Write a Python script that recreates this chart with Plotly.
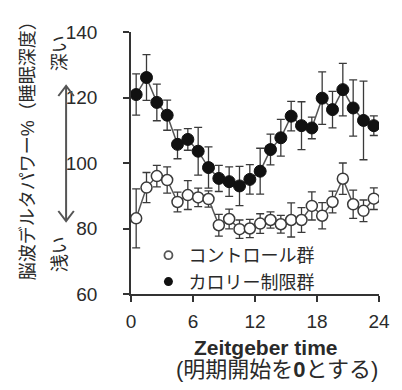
import plotly.graph_objects as go

# ---- data ----
hours = [h + 0.5 for h in range(24)]
control = [83.1, 92.5, 96.0, 94.8, 88.1, 90.2, 89.5, 89.0, 81.0, 82.9, 79.8, 80.0,
           81.5, 82.6, 81.3, 82.6, 82.6, 86.9, 83.9, 88.1, 95.2, 87.4, 85.4, 89.1]
control_err = [9.0, 4.6, 3.3, 4.0, 3.0, 4.4, 2.8, 2.5, 3.3, 3.0, 2.8, 2.8,
               3.0, 2.5, 2.7, 5.2, 3.8, 4.3, 4.0, 3.3, 4.8, 4.3, 3.3, 3.3]
calorie = [120.9, 126.1, 118.5, 114.6, 105.7, 107.2, 103.6, 98.6, 95.3, 94.3, 93.0, 95.0,
           97.5, 104.1, 107.7, 114.3, 111.4, 110.7, 119.8, 116.3, 122.4, 116.8, 113.0, 111.4]
calorie_err = [6.3, 7.0, 5.6, 4.6, 4.4, 3.3, 7.3, 6.3, 4.0, 4.5, 6.0, 4.5,
               7.0, 4.7, 5.6, 4.5, 7.3, 3.3, 8.0, 5.6, 8.0, 8.6, 12.0, 3.0]
x_ticks = [0, 6, 12, 18, 24]
y_ticks = [60, 80, 100, 120, 140]
series_names = ["コントロール群", "カロリー制限群"]

FONT = "Liberation Sans, Arial, Noto Sans CJK JP, sans-serif"
TXT = "#2a2a2a"

# layout geometry (pixels)
W, H = 402, 390
L, R, T, B = 131, 15, 32, 96
PW, PH = W - L - R, H - T - B


def px(x):
    return (x - L) / PW


def py(y):
    return (H - B - y) / PH


fig = go.Figure()
fig.add_trace(go.Scatter(
    x=hours, y=control, name=series_names[0], mode="lines+markers", showlegend=False,
    line=dict(color="#555555", width=1.5),
    marker=dict(symbol="circle", size=11, color="white",
                line=dict(color="#3a3a3a", width=1.5)),
    error_y=dict(type="data", array=control_err, visible=True,
                 color="#3a3a3a", thickness=1.3, width=4),
))
fig.add_trace(go.Scatter(
    x=hours, y=calorie, name=series_names[1], mode="lines+markers", showlegend=False,
    line=dict(color="#555555", width=1.5),
    marker=dict(symbol="circle", size=12, color="#111111",
                line=dict(color="#111111", width=1)),
    error_y=dict(type="data", array=calorie_err, visible=True,
                 color="#3a3a3a", thickness=1.3, width=4),
))
# legend entries (marker only)
fig.add_trace(go.Scatter(
    x=[None], y=[None], name=series_names[0], mode="markers",
    marker=dict(symbol="circle", size=8, color="white",
                line=dict(color="#555555", width=1.8)),
))
fig.add_trace(go.Scatter(
    x=[None], y=[None], name=series_names[1], mode="markers",
    marker=dict(symbol="circle", size=9, color="#111111"),
))

axis_common = dict(showline=True, linecolor="#333333", linewidth=1.5,
                   showgrid=False, zeroline=False, ticks="outside",
                   ticklen=6, tickcolor="#333333", tickwidth=1.5,
                   tickfont=dict(family=FONT, size=19, color=TXT))

fig.update_xaxes(range=[0, 24], tickvals=x_ticks, ticklabelstandoff=3, **axis_common)
fig.update_yaxes(range=[60, 140], tickvals=y_ticks, ticklabelstandoff=22, **axis_common)

ann_common = dict(xref="paper", yref="paper", showarrow=False,
                  xanchor="center", yanchor="middle")
annotations = [
    dict(text="<b>Zeitgeber time</b>", x=px(270), y=py(347),
         font=dict(family=FONT, size=21, color=TXT), **ann_common),
    dict(text="(明期開始を<b>0</b>とする)", x=px(282), y=py(369),
         font=dict(family=FONT, size=22, color=TXT), **ann_common),
    dict(text="脳波デルタパワー%（睡眠深度）", x=px(25), y=py(146), textangle=-90,
         font=dict(family=FONT, size=18, color=TXT), **ann_common),
    dict(text="深い", x=px(58), y=py(53), textangle=-90,
         font=dict(family=FONT, size=18, color=TXT), **ann_common),
    dict(text="浅い", x=px(58), y=py(254), textangle=-90,
         font=dict(family=FONT, size=18, color=TXT), **ann_common),
]

ax_x, top_y, bot_y, hw, hh = 64, 86, 221, 8, 10
shapes = [
    dict(type="line", xref="paper", yref="paper", x0=px(ax_x), x1=px(ax_x),
         y0=py(top_y), y1=py(bot_y), line=dict(color="#555555", width=2)),
    dict(type="path", xref="paper", yref="paper",
         path=f"M {px(ax_x-hw)} {py(top_y+hh)} L {px(ax_x)} {py(top_y)} L {px(ax_x+hw)} {py(top_y+hh)}",
         line=dict(color="#555555", width=2)),
    dict(type="path", xref="paper", yref="paper",
         path=f"M {px(ax_x-hw)} {py(bot_y-hh)} L {px(ax_x)} {py(bot_y)} L {px(ax_x+hw)} {py(bot_y-hh)}",
         line=dict(color="#555555", width=2)),
]

fig.update_layout(
    width=W, height=H, margin=dict(l=L, r=R, t=T, b=B),
    paper_bgcolor="white", plot_bgcolor="white",
    font=dict(family=FONT, color=TXT),
    showlegend=True,
    legend=dict(x=px(149), y=py(237), xanchor="left", yanchor="top",
                bgcolor="rgba(0,0,0,0)", borderwidth=0,
                font=dict(family=FONT, size=18, color=TXT),
                itemsizing="trace", itemwidth=30, tracegroupgap=0),
    annotations=annotations, shapes=shapes,
)

fig.write_html("out.html")
